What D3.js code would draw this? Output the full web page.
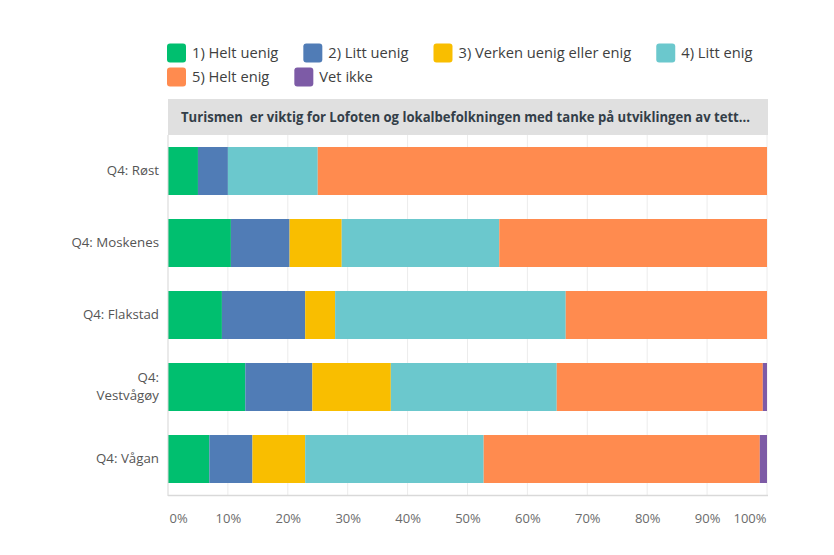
<!DOCTYPE html>
<html>
<head>
<meta charset="utf-8">
<script src="https://cdn.jsdelivr.net/npm/d3@7"></script>
<style>
  html, body { margin: 0; padding: 0; background: #ffffff; }
  svg { display: block; font-family: "Open Sans", Roboto, sans-serif; }
</style>
</head>
<body>
<svg id="chart" width="834" height="555"></svg>
<script>
// ---- data ----
const categories = ["Q4: Røst", "Q4: Moskenes", "Q4: Flakstad", "Q4: Vestvågøy", "Q4: Vågan"];
const seriesNames = ["1) Helt uenig", "2) Litt uenig", "3) Verken uenig eller enig", "4) Litt enig", "5) Helt enig", "Vet ikke"];
const heltUenig  = [5.0, 10.5,  9.0, 12.9,  6.9];
const littUenig  = [5.0,  9.8, 13.9, 11.2,  7.2];
const verken     = [0.0,  8.7,  5.0, 13.1,  8.8];
const littEnig   = [15.0, 26.3, 38.5, 27.7, 29.8];
const heltEnig   = [75.0, 44.7, 33.6, 34.4, 46.1];
const vetIkke    = [0.0,  0.0,  0.0,  0.7,  1.2];
const tickValues = [0, 10, 20, 30, 40, 50, 60, 70, 80, 90, 100];
const tickLabels = ["0%", "10%", "20%", "30%", "40%", "50%", "60%", "70%", "80%", "90%", "100%"];
const title = "Turismen  er viktig for Lofoten og lokalbefolkningen med tanke på utviklingen av tett...";
const colors = ["#00bf6f", "#507cb6", "#f9be00", "#6bc8cd", "#ff8b4f", "#7d5ba6"];

const seriesValues = [heltUenig, littUenig, verken, littEnig, heltEnig, vetIkke];

// ---- layout ----
const svg = d3.select("#chart");
const pLeft = 168, pRight = 767, pTop = 135, pBottom = 495;

const x = d3.scaleLinear().domain([0, 100]).range([pLeft, pRight]);
const y = d3.scaleBand().domain(categories).range([pTop, pBottom])
  .paddingInner(1 / 3).paddingOuter(1 / 6);

// legend (flow layout)
const legend = svg.append("g");
let lx = 167, ly = 53;
seriesNames.forEach((name, i) => {
  const g = legend.append("g");
  g.append("rect").attr("x", 0).attr("y", -9.5).attr("width", 19).attr("height", 19)
    .attr("rx", 3).attr("fill", colors[i]);
  const t = g.append("text").attr("x", 25).attr("y", 0).attr("dy", "0.35em")
    .attr("font-size", 14.7).attr("fill", "#403f3f").text(name);
  const w = 25 + t.node().getComputedTextLength();
  if (lx + w > 780) { lx = 167; ly += 24; }
  g.attr("transform", `translate(${lx},${ly})`);
  lx += w + 25;
});

// title bar
svg.append("rect").attr("x", pLeft).attr("y", 99).attr("width", pRight - pLeft + 1).attr("height", 36)
  .attr("fill", "#e0e0e0");
const tt = svg.append("text").attr("x", 181).attr("y", 117).attr("dy", "0.35em")
  .style("white-space", "pre")
  .attr("font-size", 13.5).attr("font-weight", "bold").attr("fill", "#333e48").text(title);
const tw = tt.node().getComputedTextLength();
if (Math.abs(tw - 569) > 6) tt.attr("textLength", 569).attr("lengthAdjust", "spacingAndGlyphs");

// gridlines
svg.append("g").selectAll("line").data(tickValues.slice(1)).join("line")
  .attr("x1", d => x(d)).attr("x2", d => x(d))
  .attr("y1", pTop).attr("y2", pBottom)
  .attr("stroke", "#ececec").attr("stroke-width", 1);

// stacked bars
const stackData = categories.map((c, ci) => {
  const o = { cat: c };
  seriesNames.forEach((s, si) => { o[s] = seriesValues[si][ci]; });
  return o;
});
const stacked = d3.stack().keys(seriesNames)(stackData);
svg.append("g").selectAll("g").data(stacked).join("g")
  .attr("fill", (d, i) => colors[i])
  .selectAll("rect").data(d => d).join("rect")
  .attr("x", d => x(d[0]))
  .attr("width", d => Math.max(0, x(d[1]) - x(d[0])))
  .attr("y", d => y(d.data.cat))
  .attr("height", y.bandwidth());

// axis lines
svg.append("line").attr("x1", pLeft).attr("x2", pLeft).attr("y1", pTop).attr("y2", pBottom + 1)
  .attr("stroke", "#d5d5d5");
svg.append("line").attr("x1", pLeft).attr("x2", pRight + 1).attr("y1", pBottom + 0.5).attr("y2", pBottom + 0.5)
  .attr("stroke", "#d9d9d9").attr("stroke-width", 1.5);

// x tick labels
const xAxis = d3.axisBottom(x).tickValues(tickValues).tickSize(0).tickPadding(0)
  .tickFormat((d, i) => tickLabels[i]);
const xg = svg.append("g").attr("transform", `translate(0,${pBottom})`).call(xAxis);
xg.select(".domain").remove();
xg.selectAll("text").attr("y", 23).attr("dy", "0.35em")
  .attr("font-size", 13).attr("font-family", "'Open Sans', sans-serif").attr("fill", "#6b6b6b")
  .attr("text-anchor", (d, i) => i === 0 ? "start" : (i === tickValues.length - 1 ? "end" : "middle"))
  .attr("dx", (d, i) => i === 0 ? 1 : (i === tickValues.length - 1 ? -1 : 0));

// y labels with wrapping (long labels split after the "Q4:" prefix)
const yAxis = d3.axisLeft(y).tickSize(0).tickPadding(9);
const yg = svg.append("g").attr("transform", `translate(${pLeft},0)`).call(yAxis);
yg.select(".domain").remove();
yg.selectAll("text").attr("font-size", 13.3).attr("font-family", "'Open Sans', sans-serif")
  .attr("fill", "#555555")
  .each(function (d) {
    const t = d3.select(this);
    if (d.length > 12) {
      const words = d.split(" ");
      t.text(null);
      const lines = [words[0], words.slice(1).join(" ")];
      lines.forEach((ln, k) => {
        t.append("tspan").attr("x", -9).attr("dy", k === 0 ? "-0.35em" : "1.35em").text(ln);
      });
    }
  });
</script>
</body>
</html>
